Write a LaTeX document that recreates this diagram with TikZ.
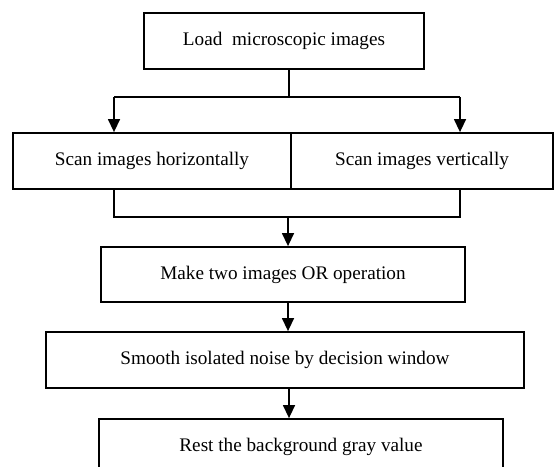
\documentclass[tikz,border=0pt]{standalone}
\usepackage{fontspec}
\setmainfont{Liberation Serif}
\usepackage{tikz}
\usetikzlibrary{arrows.meta,positioning,calc}
\tikzset{
  paso/.style={draw=black, line width=0.9pt, rectangle, align=center, inner sep=0pt, font=\fontsize{9.6}{11}\selectfont},
  lin/.style={line width=0.7pt, black},
  fl/.style={-{Triangle[length=6.5pt, width=6pt]}, line width=0.7pt, black},
}

\begin{document}
\begin{tikzpicture}[x=0.5pt, y=-0.5pt]
  \clip (0,0) rectangle (555,466);
  \node[paso, minimum width=140pt, minimum height=28pt] (carga) at (284,41) {Load\ \ microscopic images};
  \node[paso, minimum width=139pt, minimum height=28pt] (hor) at (152,161) {Scan images horizontally};
  \node[paso, minimum width=131pt, minimum height=28pt] (ver) at (422,161) {Scan images vertically};
  \node[paso, minimum width=182pt, minimum height=27.5pt] (ou) at (283,274.5) {Make two images OR operation};
  \node[paso, minimum width=239pt, minimum height=28pt] (suave) at (285,360) {Smooth isolated noise by decision window};
  \node[paso, minimum width=202pt, minimum height=28pt] (fondo) at (301,447) {Rest the background gray value};
  \coordinate (s0) at (289,97); \coordinate (sl) at (114,97); \coordinate (sr) at (460,97);
  \coordinate (m0) at (288,217);
  \draw[lin] (carga.south -| s0) -- (s0); \draw[lin] (sl) -- (sr);
  \draw[fl] (sl) -- (sl |- hor.north); \draw[fl] (sr) -- (sr |- ver.north);
  \draw[lin] (hor.south -| sl) -- (sl |- m0) -- (sr |- m0) -- (ver.south -| sr);
  \draw[fl] (m0) -- (m0 |- ou.north);
  \draw[fl] (ou.south -| m0) -- (suave.north -| m0);
  \draw[fl] (suave.south -| s0) -- (fondo.north -| s0);
\end{tikzpicture}
\end{document}
